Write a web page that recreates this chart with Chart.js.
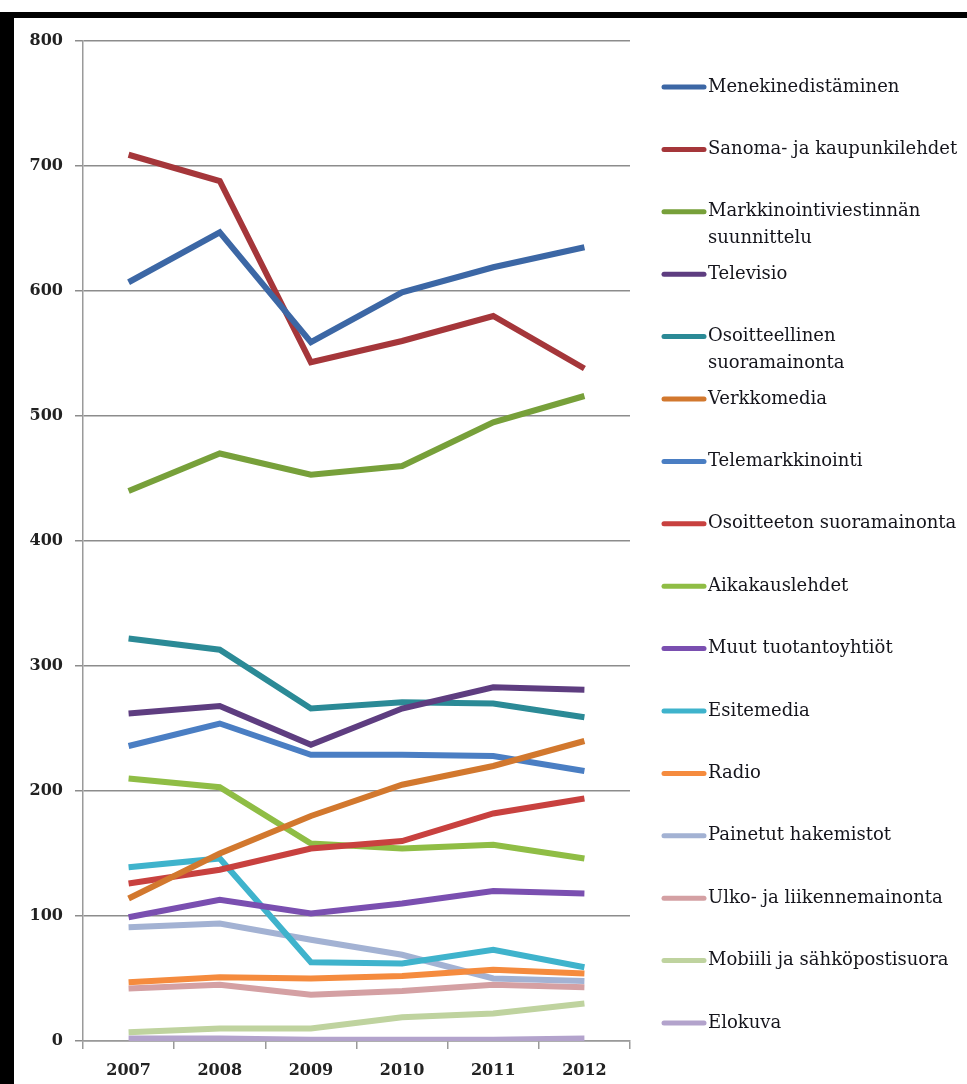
<!DOCTYPE html>
<html>
<head>
<meta charset="utf-8">
<script src="https://cdn.jsdelivr.net/npm/chart.js@4/dist/chart.umd.min.js"></script>
<style>
  html, body { margin: 0; padding: 0; background: #fff; }
  #frame {
    position: absolute; left: 0; top: 12px; width: 953px; height: 1066px;
    border-top: 6px solid #000; border-left: 14px solid #000;
  }
  #wrap { position: relative; width: 953px; height: 1066px; }
</style>
</head>
<body>
<div id="frame"><div id="wrap"><canvas id="chart"></canvas></div></div>
<script>
const years = ["2007", "2008", "2009", "2010", "2011", "2012"];

const menekinedistaminen = [607, 647, 559, 599, 619, 635];
const sanomaJaKaupunkilehdet = [709, 688, 543, 560, 580, 538];
const markkinointiviestinta = [440, 470, 453, 460, 495, 516];
const televisio = [262, 268, 237, 266, 283, 281];
const osoitteellinen = [322, 313, 266, 271, 270, 259];
const verkkomedia = [114, 150, 180, 205, 220, 240];
const telemarkkinointi = [236, 254, 229, 229, 228, 216];
const osoitteeton = [126, 137, 154, 160, 182, 194];
const aikakauslehdet = [210, 203, 158, 154, 157, 146];
const muutTuotantoyhtiot = [99, 113, 102, 110, 120, 118];
const esitemedia = [139, 146, 63, 62, 73, 59];
const radio = [47, 51, 50, 52, 57, 54];
const painetutHakemistot = [91, 94, 81, 69, 50, 48];
const ulkoJaLiikenne = [42, 45, 37, 40, 45, 43];
const mobiiliJaSahkoposti = [7, 10, 10, 19, 22, 30];
const elokuva = [2, 2, 1, 1, 1, 2];

const seriesNames = [
    "Menekinedistäminen", "Sanoma- ja kaupunkilehdet", ["Markkinointiviestinnän", "suunnittelu"],
    "Televisio", ["Osoitteellinen", "suoramainonta"], "Verkkomedia", "Telemarkkinointi",
    "Osoitteeton suoramainonta", "Aikakauslehdet", "Muut tuotantoyhtiöt", "Esitemedia", "Radio",
    "Painetut hakemistot", "Ulko- ja liikennemainonta", "Mobiili ja sähköpostisuora", "Elokuva"
];
const seriesValues = [
    menekinedistaminen, sanomaJaKaupunkilehdet, markkinointiviestinta, televisio, osoitteellinen,
    verkkomedia, telemarkkinointi, osoitteeton, aikakauslehdet, muutTuotantoyhtiot, esitemedia,
    radio, painetutHakemistot, ulkoJaLiikenne, mobiiliJaSahkoposti, elokuva
];
const seriesColors = [
    "#3c67a5", "#a5363a", "#77a03a", "#5e3d80", "#2b8a96", "#d2782e", "#4a7ec3", "#c8413f",
    "#8fbd45", "#7a4fb0", "#3fb3cc", "#f58b3e", "#a3b2d3", "#d4a0a3", "#bfd39f", "#b3a3cc"
];

const serif = "'DejaVu Serif', 'Liberation Serif', serif";

// legend on the right, one slot per series, swatch aligned with first text line
const sideLegend = {
    id: "sideLegend",
    afterDraw(chart) {
        const ctx = chart.ctx;
        ctx.save();
        ctx.font = `18px ${serif}`;
        ctx.fillStyle = "#15151c";
        ctx.textBaseline = "middle";
        chart.data.datasets.forEach((ds, i) => {
            const y = 69 + i * 62.4;
            ctx.strokeStyle = ds.borderColor;
            ctx.lineWidth = 5;
            ctx.lineCap = "round";
            ctx.beginPath();
            ctx.moveTo(650, y);
            ctx.lineTo(690, y);
            ctx.stroke();
            const lines = Array.isArray(ds.label) ? ds.label : [ds.label];
            lines.forEach((t, j) => ctx.fillText(t, 694, y + j * 27));
        });
        ctx.restore();
    }
};

new Chart(document.getElementById("chart"), {
    type: "line",
    data: {
        labels: years,
        datasets: seriesNames.map((n, i) => ({
            label: n, data: seriesValues[i], borderColor: seriesColors[i], backgroundColor: seriesColors[i],
            borderWidth: 6, pointRadius: 0, tension: 0, fill: false
        }))
    },
    options: {
        responsive: true, maintainAspectRatio: false, animation: false,
        layout: { padding: { top: 23, right: 337, left: 0, bottom: 0 } },
        plugins: { legend: { display: false }, tooltip: { enabled: false } },
        scales: {
            x: {
                offset: true,
                grid: { offset: true, drawOnChartArea: false, drawTicks: true, tickLength: 8, color: "#9a9a9a", lineWidth: 1.5 },
                border: { display: true, color: "#9a9a9a", width: 1.5 },
                ticks: { font: { family: serif, size: 16, weight: "bold" }, color: "#222", padding: 12, maxRotation: 0 },
                afterFit: s => { s.height = 43; }
            },
            y: {
                min: 0, max: 800,
                grid: { color: "#8c8c8c", lineWidth: 1.5, tickLength: 8 },
                border: { display: true, color: "#9a9a9a", width: 1.5 },
                ticks: { stepSize: 100, font: { family: serif, size: 16, weight: "bold" }, color: "#222", padding: 12 },
                afterFit: s => { s.width = 69; }
            }
        }
    },
    plugins: [sideLegend]
});
</script>
</body>
</html>
